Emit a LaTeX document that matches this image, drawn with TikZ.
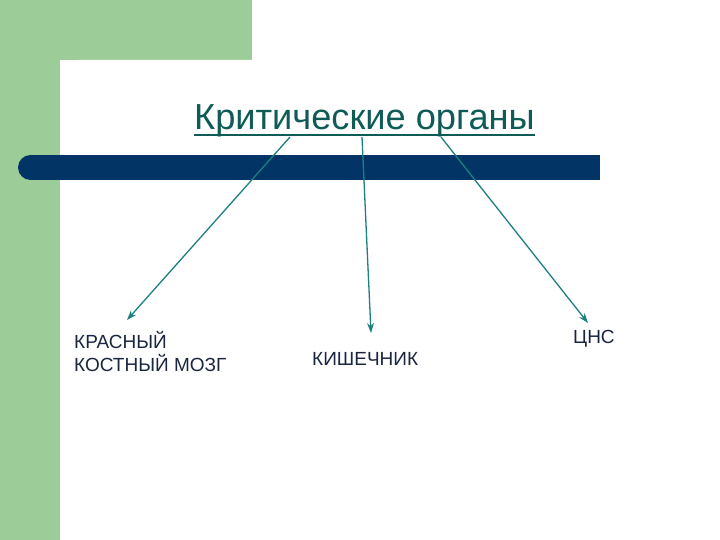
\documentclass[tikz,border=0pt]{standalone}
\usepackage{fontspec}
\setmainfont{Liberation Sans}
\usetikzlibrary{arrows.meta}
\definecolor{bggreen}{HTML}{9CCC98}
\definecolor{barblue}{HTML}{023466}
\definecolor{titlecol}{HTML}{0E5C55}
\definecolor{arrowcol}{HTML}{1E7F80}
\definecolor{textcol}{HTML}{1A2640}
\tikzset{
  titletext/.style={inner sep=0pt, text=titlecol, font=\fontsize{36.2}{40}\selectfont},
  organ/.style={inner sep=0pt, text=textcol, font=\fontsize{19}{23}\selectfont, align=left},
  pointer/.style={draw=arrowcol, line width=1.3pt, -{Stealth[length=10pt,width=7pt]}}
}
\begin{document}
\begin{tikzpicture}[x=1pt,y=-1pt]
\useasboundingbox (0,0) rectangle (720,540);
% background
\fill[bggreen] (0,0) rectangle (252,60);
\fill[bggreen] (0,0) rectangle (60,540);
\fill[white, rounded corners=18pt] (60,60) rectangle (760,580);
% bar
\fill[barblue] (30.5,155) rectangle (600,180);
\fill[barblue] (30.5,167.5) circle (12.5);
% title
\node[titletext, anchor=base west] (title) at (194,130) {Критические органы};
\draw[titlecol, line width=2pt] ([yshift=-5pt]title.base west) -- ([yshift=-5pt]title.base east);
% organs
\node[organ, anchor=base west] (marrow) at (74,371) {КРАСНЫЙ\\КОСТНЫЙ МОЗГ};
\node[organ, anchor=base west] (gut) at (312,365) {КИШЕЧНИК};
\node[organ, anchor=base west] (cns) at (573,343) {ЦНС};
% connector ends
\coordinate (s1) at (290,137);
\coordinate (s2) at (362,137);
\coordinate (s3) at (441,137);
\coordinate (e1) at (127,320);
\coordinate (e2) at (371,333);
\coordinate (e3) at (588,323);
\draw[pointer] (s1) -- (e1);
\draw[pointer] (s2) -- (e2);
\draw[pointer] (s3) -- (e3);
\end{tikzpicture}
\end{document}
